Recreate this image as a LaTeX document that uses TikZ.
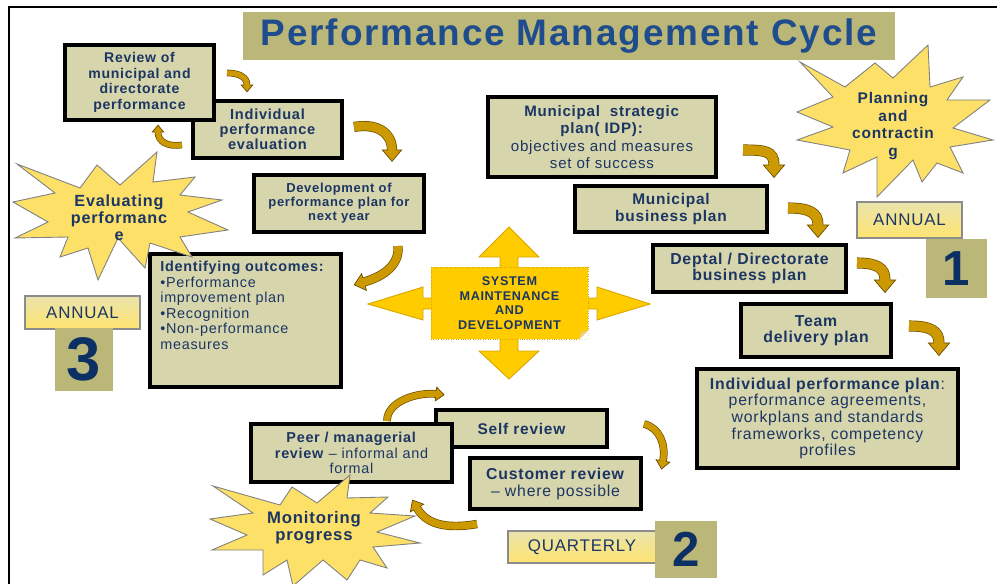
\documentclass[tikz,border=0pt]{standalone}
\usepackage{fontspec}
\setmainfont{Liberation Sans}[LetterSpace=5]
\usetikzlibrary{decorations.markings}

\definecolor{navy}{RGB}{28,54,100}
\definecolor{titleblue}{RGB}{31,76,140}
\definecolor{deepblue}{RGB}{12,48,100}
\definecolor{khaki}{RGB}{215,213,171}
\definecolor{olive}{RGB}{186,183,121}
\definecolor{burstfill}{RGB}{253,224,104}
\definecolor{sun}{RGB}{255,204,0}
\definecolor{sunedge}{RGB}{214,165,0}
\definecolor{turnfill}{RGB}{204,153,0}
\definecolor{turnedge}{RGB}{105,78,0}
\definecolor{tagtop}{RGB}{234,228,172}
\definecolor{tagbot}{RGB}{255,228,112}

\begin{document}
\begin{tikzpicture}[
  x=0.02cm, y=-0.02cm,
  stage/.style={draw=black, line width=2.2pt, fill=khaki, text=navy, align=center, inner sep=1pt},
  tag/.style={draw=black!45, line width=0.6pt, top color=tagtop, bottom color=tagbot, text=navy,
    font=\fontsize{9.6}{11}\selectfont},
  num/.style={fill=olive, text=deepblue, font=\bfseries\fontsize{28}{30}\selectfont},
  burst/.style={draw=black!50, line width=0.5pt, fill=burstfill},
  burstlabel/.style={text=navy, align=center, font=\bfseries\fontsize{9.2}{9.8}\selectfont},
  turn/.style={draw=turnedge, line width=0.4pt, double=turnfill, double distance=#1,
    postaction={decorate, decoration={markings, mark=at position 0.999 with {
      \fill[turnfill] (0pt,-1.1*#1) -- (1.3*#1,0pt) -- (0pt,1.1*#1) -- cycle;
      \draw[turnedge, line width=0.4pt] (0pt,0.5*#1) -- (0pt,1.1*#1) -- (1.3*#1,0pt) -- (0pt,-1.1*#1) -- (0pt,-0.5*#1);
    }}}},
]
\useasboundingbox (0,0) rectangle (997,584);

% frame
\draw[line width=1pt] (9,584) -- (9,7) -- (997,7);

% title
\node[fill=olive, minimum width=13.04cm, minimum height=0.96cm, text=titleblue,
  font=\bfseries\fontsize{21}{24}\selectfont] (title) at (569,36) {Performance Management Cycle};

% annual review (left)
\node[stage, minimum width=2.98cm, minimum height=1.14cm, font=\bfseries\fontsize{8.3}{8.6}\selectfont]
  (evaluation) at (267.5,129.5) {Individual\\performance\\evaluation};
\node[stage, minimum width=2.98cm, minimum height=1.50cm, font=\bfseries\fontsize{8}{8.8}\selectfont]
  (review) at (139.5,82.5) {Review of\\municipal and\\directorate\\performance};
\node[stage, minimum width=3.40cm, minimum height=1.14cm, font=\bfseries\fontsize{7.4}{7.9}\selectfont]
  (nextplan) at (339,203.5) {Development of\\performance plan for\\next year};
\node[stage, minimum width=3.82cm, minimum height=2.66cm] (outcomes) at (245.5,320.5) {};
\node[anchor=north west, text=navy, align=left, inner sep=0pt, font=\fontsize{8.2}{8.8}\selectfont]
  (outcometext) at (160,261) {\textbf{Identifying outcomes:}\\•Performance\\improvement plan\\•Recognition\\•Non-performance\\measures};

% planning (right)
\node[stage, minimum width=4.56cm, minimum height=1.60cm, font=\fontsize{8.6}{9.9}\selectfont]
  (idp) at (602,137) {\textbf{Municipal\ \ strategic}\\\textbf{plan( IDP):}\\objectives and measures\\set of success};
\node[stage, minimum width=3.84cm, minimum height=0.92cm, font=\bfseries\fontsize{8.8}{9.6}\selectfont]
  (business) at (671,209) {Municipal\\business plan};
\node[stage, minimum width=3.86cm, minimum height=0.94cm, font=\bfseries\fontsize{9}{9.3}\selectfont]
  (deptal) at (749.5,268.5) {Deptal / Directorate\\business plan};
\node[stage, minimum width=3.00cm, minimum height=1.06cm, font=\bfseries\fontsize{9}{9.4}\selectfont]
  (team) at (816,330.5) {Team\\delivery plan};
\node[stage, minimum width=5.22cm, minimum height=1.98cm, font=\fontsize{9}{9.5}\selectfont]
  (indplan) at (827.5,418.5) {\textbf{Individual performance plan}:\\performance agreements,\\workplans and standards\\frameworks, competency\\profiles};

% quarterly monitoring (bottom)
\node[stage, minimum width=3.42cm, minimum height=0.74cm, font=\bfseries\fontsize{8.8}{10}\selectfont]
  (self) at (521.5,428.5) {Self review};
\node[stage, minimum width=4.02cm, minimum height=1.16cm, font=\fontsize{8.2}{9}\selectfont]
  (peer) at (351.5,453) {\textbf{Peer / managerial}\\\textbf{review} -- informal and\\formal};
\node[stage, minimum width=3.42cm, minimum height=1.02cm, font=\fontsize{9}{9.6}\selectfont]
  (customer) at (555.5,483.5) {\textbf{Customer review}\\-- where possible};

% period tags
\node[tag, minimum width=2.30cm, minimum height=0.66cm] (annualL) at (82.5,312.5) {ANNUAL};
\node[num, minimum width=1.16cm, minimum height=1.26cm, font=\bfseries\fontsize{35}{36}\selectfont]
  (three) at (84,359.5) {3};
\node[tag, minimum width=2.10cm, minimum height=0.72cm] (annualR) at (909.5,220) {ANNUAL};
\node[num, minimum width=1.22cm, minimum height=1.18cm] (one) at (956.5,268.5) {1};
\node[tag, minimum width=2.96cm, minimum height=0.64cm] (quarterly) at (582,547) {QUARTERLY};
\node[num, minimum width=1.24cm, minimum height=1.14cm] (two) at (686,549.5) {2};

% stars
\draw[burst] (17,164) -- (80,188) -- (97,165) -- (120,185) -- (157,152) -- (153,182) -- (195,177)
  -- (180,195) -- (222,200) -- (188,212) -- (228,230) -- (180,237) -- (192,257) -- (150,243)
  -- (145,268) -- (118,238) -- (98,280) -- (88,248) -- (60,257) -- (68,237) -- (15,238)
  -- (48,222) -- (13,202) -- (55,193) -- cycle;
\node[burstlabel] (evalstar) at (119,218) {Evaluating\\performanc\\e};

\draw[burst] (800,62) -- (845,87) -- (875,63) -- (893,78) -- (928,45) -- (930,87) -- (963,77)
  -- (947,100) -- (990,100) -- (953,128) -- (993,140) -- (950,147) -- (963,173) -- (937,163)
  -- (922,182) -- (913,160) -- (877,197) -- (877,157) -- (843,173) -- (850,150) -- (797,140)
  -- (833,127) -- (797,112) -- (833,97) -- cycle;
\node[burstlabel, font=\bfseries\fontsize{8.8}{9.9}\selectfont] (planstar) at (893,126)
  {Planning\\and\\contractin\\g};

\draw[burst] (213,486) -- (280,505) -- (292,487) -- (317,503) -- (350,475) -- (347,498) -- (388,497)
  -- (370,513) -- (415,516) -- (377,532) -- (420,543) -- (373,547) -- (387,568) -- (360,560)
  -- (347,580) -- (323,560) -- (293,586) -- (287,560) -- (263,575) -- (263,550) -- (212,550)
  -- (247,535) -- (210,519) -- (253,513) -- cycle;
\node[burstlabel, font=\bfseries\fontsize{9.5}{9.6}\selectfont] (monstar) at (314,528) {Monitoring\\progress};

% curved arrows
\coordinate (t1a) at (227,73);  \coordinate (t1b) at (247,85);
\coordinate (t2a) at (182,145); \coordinate (t2b) at (158,132);
\coordinate (t3a) at (354,127); \coordinate (t3b) at (392,150);
\coordinate (t4a) at (398,246); \coordinate (t4b) at (364,282);
\coordinate (t5a) at (743,150); \coordinate (t5b) at (774,165);
\coordinate (t6a) at (788,208); \coordinate (t6b) at (818,225);
\coordinate (t7a) at (857,263); \coordinate (t7b) at (885,280);
\coordinate (t8a) at (909,326); \coordinate (t8b) at (939,343);
\coordinate (t9a) at (644,424); \coordinate (t9b) at (663,461);
\coordinate (t10a) at (477,524); \coordinate (t10b) at (417,508);
\coordinate (t11a) at (387,421); \coordinate (t11b) at (436,394);

\draw[turn=3pt] (t1a) .. controls +(12,0) and +(0,-8) .. (t1b);
\draw[turn=3pt] (t2a) .. controls +(-14,2) and +(0,10) .. (t2b);
\draw[turn=5pt] (t3a) .. controls +(22,-4) and +(0,-18) .. (t3b);
\draw[turn=4.5pt] (t4a) .. controls +(2,22) and +(14,-4) .. (t4b);
\draw[turn=5.5pt] (t5a) .. controls +(22,0) and +(0,-14) .. (t5b);
\draw[turn=5.5pt] (t6a) .. controls +(22,0) and +(0,-12) .. (t6b);
\draw[turn=5.5pt] (t7a) .. controls +(20,0) and +(0,-12) .. (t7b);
\draw[turn=5.5pt] (t8a) .. controls +(22,0) and +(0,-12) .. (t8b);
\draw[turn=3.6pt] (t9a) .. controls +(16,4) and +(3,-16) .. (t9b);
\draw[turn=4pt] (t10a) .. controls +(-35,6) and +(8,14) .. (t10b);
\draw[turn=3.6pt] (t11a) .. controls +(0,-20) and +(-18,-2) .. (t11b);

% four-way arrow behind the system box
\draw[fill=sun, draw=sunedge, line width=0.5pt] (509,227) -- (539,257) -- (518,257) -- (518,298)
  -- (597,298) -- (597,287) -- (650,304) -- (597,320) -- (597,309) -- (518,309) -- (518,351)
  -- (539,351) -- (509,379) -- (479,351) -- (500,351) -- (500,309) -- (423,309) -- (423,320)
  -- (368,304) -- (423,287) -- (423,298) -- (500,298) -- (500,257) -- (479,257) -- cycle;
\node[fill=sun, draw=sunedge, densely dotted, line width=0.4pt, minimum width=3.14cm, minimum height=1.44cm,
  align=center, text=navy, font=\bfseries\fontsize{7.2}{8.3}\selectfont] (system) at (509.5,303)
  {SYSTEM\\MAINTENANCE\\AND\\DEVELOPMENT};
% curled corner
\fill[white] (579,339.6) -- (588.6,339.6) -- (588.6,330) -- cycle;
\fill[sunedge!55!white] (579,339.6) -- (588.6,330) -- (581,332) -- cycle;
\end{tikzpicture}
\end{document}
